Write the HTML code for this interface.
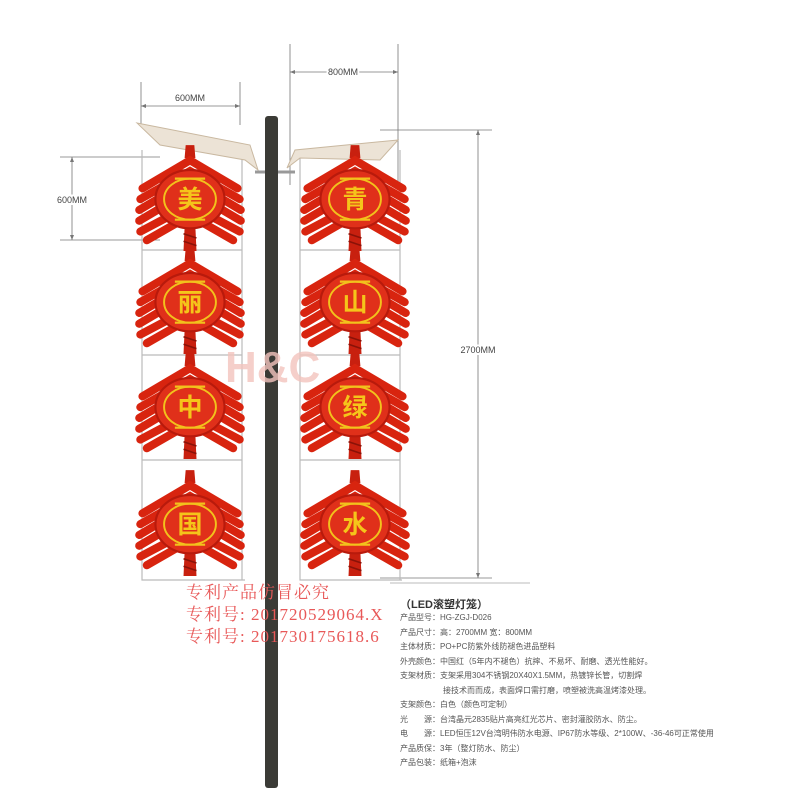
<!DOCTYPE html>
<html><head><meta charset="utf-8"><style>
body{margin:0;background:#fff;width:793px;height:793px;overflow:hidden;position:relative;font-family:"Liberation Sans","Noto Sans CJK SC",sans-serif}
.t{position:absolute;white-space:nowrap}
</style></head><body>
<svg width="793" height="793" style="position:absolute;left:0;top:0">
<defs>
<g id="lan">
<path d="M-4,-48 L4,-48 L5,-36 L-5,-36Z" fill="#c8200f"/>
<g fill="none" stroke="#d8240f" stroke-width="7.5" stroke-linecap="round">
<path d="M-44,-8 L0,-34 L44,-8"/>
<path d="M-46,2 L0,-24 L46,2"/>
<path d="M-47,12 L-20,-4 M20,-4 L47,12"/>
<path d="M-47,22 L-20,6 M20,6 L47,22"/>
<path d="M-46,32 L-12,14 M12,14 L46,32"/>
<path d="M-40,40 L-12,24 M12,24 L40,40"/>
</g>
<path d="M-5,28 L5,28 L6,50 L-6,50Z" fill="#c8200f"/>
<path d="M-6,34 L6,38 M-6,41 L6,45" stroke="#8a1208" stroke-width="1.5"/>
<ellipse cx="0" cy="2" rx="32" ry="27" fill="#e0301a" stroke="#b81a0c" stroke-width="2"/>
<ellipse cx="0" cy="2" rx="24" ry="19" fill="none" stroke="#f2c21c" stroke-width="1.8"/>
<path d="M-14,-17 h28 M-14,21 h28" stroke="#f2c21c" stroke-width="2"/>
</g>
</defs>
<g stroke="#777" stroke-width="0.8" fill="none">
<path d="M141,82 V125 M240,82 V125 M141,106 H240"/>
<path d="M290,44 V185 M398,44 V185 M290,72 H398"/>
<path d="M60,157 H160 M60,240 H160 M72,157 V240"/>
<path d="M380,130 H492 M380,578 H492 M478,130 V578"/>
</g>
<g fill="#777">
<path d="M141,106 l5,-2 v4z M240,106 l-5,-2 v4z M290,72 l5,-2 v4z M398,72 l-5,-2 v4z"/>
<path d="M72,157 l-2,5 h4z M72,240 l-2,-5 h4z M478,130 l-2,5 h4z M478,578 l-2,-5 h4z"/>
</g>
<g stroke="#bbb" stroke-width="1.2" fill="none">
<path d="M142,150 V580 H245 M242,150 V580"/>
<path d="M300,150 V580 H402 M400,150 V580"/>
<path d="M142,250 H242 M142,355 H242 M142,460 H242 M300,250 H400 M300,355 H400 M300,460 H400"/>
</g>
<path d="M137,123 L250,145 L258,170 L245,160 L160,145Z" fill="#ece3d6" stroke="#c9b8a0"/>
<path d="M398,140 L295,150 L287,168 L300,158 L380,160Z" fill="#ece3d6" stroke="#c9b8a0"/>
<path d="M255,172 H295" stroke="#999" stroke-width="3"/>
<rect x="265" y="116" width="13" height="672" rx="3" fill="#3b3b36"/>
<text x="225" y="382" font-family="Liberation Sans" font-weight="bold" font-size="44" fill="#f3c4bd" opacity="0.8">H&amp;C</text>
<use href="#lan" transform="translate(190,197) scale(1.08)"/><use href="#lan" transform="translate(355,197) scale(1.08)"/>
<use href="#lan" transform="translate(190,300) scale(1.08)"/><use href="#lan" transform="translate(355,300) scale(1.08)"/>
<use href="#lan" transform="translate(190,405) scale(1.08)"/><use href="#lan" transform="translate(355,405) scale(1.08)"/>
<use href="#lan" transform="translate(190,522) scale(1.08)"/><use href="#lan" transform="translate(355,522) scale(1.08)"/>
<g font-family="Noto Sans CJK SC,sans-serif" font-size="25" fill="#f5c51a" text-anchor="middle" font-weight="bold">
<text x="190" y="208">美</text><text x="355" y="208">青</text>
<text x="190" y="311">丽</text><text x="355" y="311">山</text>
<text x="190" y="416">中</text><text x="355" y="416">绿</text>
<text x="190" y="533">国</text><text x="355" y="533">水</text>
</g>
<g font-family="Liberation Sans" font-size="9" fill="#444" text-anchor="middle">
<text x="190" y="101">600MM</text>
<text x="343" y="75" style="paint-order:stroke" stroke="#fff" stroke-width="4">800MM</text>
<text x="72" y="203" style="paint-order:stroke" stroke="#fff" stroke-width="4">600MM</text>
<text x="478" y="353" style="paint-order:stroke" stroke="#fff" stroke-width="4">2700MM</text>
</g>
<path d="M390,583 H530" stroke="#bbb"/>
</svg>
<div class="t" style="left:186px;top:582px;font-family:'Liberation Serif','Noto Serif CJK SC',serif;color:#e85858;font-size:17px;line-height:22px;letter-spacing:1px">专利产品仿冒必究<br>专利号: 201720529064.X<br>专利号: 201730175618.6</div>
<div class="t" style="left:400px;top:596px;font-size:11px;font-weight:bold;color:#333">（LED滚塑灯笼）</div>
<div class="t" style="left:400px;top:611px;font-size:8px;line-height:14.5px;color:#555">
产品型号：HG-ZGJ-D026<br>
产品尺寸：高：2700MM 宽：800MM<br>
主体材质：PO+PC防紫外线防褪色进品塑料<br>
外壳颜色：中国红（5年内不褪色）抗摔、不易坏、耐磨、透光性能好。<br>
支架材质：支架采用304不锈钢20X40X1.5MM，热镀锌长管，切割焊<br>
<span style="padding-left:43px">接技术而而成，表面焊口需打磨，喷塑被洗高温烤漆处理。</span><br>
支架颜色：白色（颜色可定制）<br>
光　　源：台湾晶元2835贴片高亮红光芯片、密封灌胶防水、防尘。<br>
电　　源：LED恒压12V台湾明伟防水电源、IP67防水等级、2*100W、-36-46可正常使用<br>
产品质保：3年（整灯防水、防尘）<br>
产品包装：纸箱+泡沫</div>
</body></html>
